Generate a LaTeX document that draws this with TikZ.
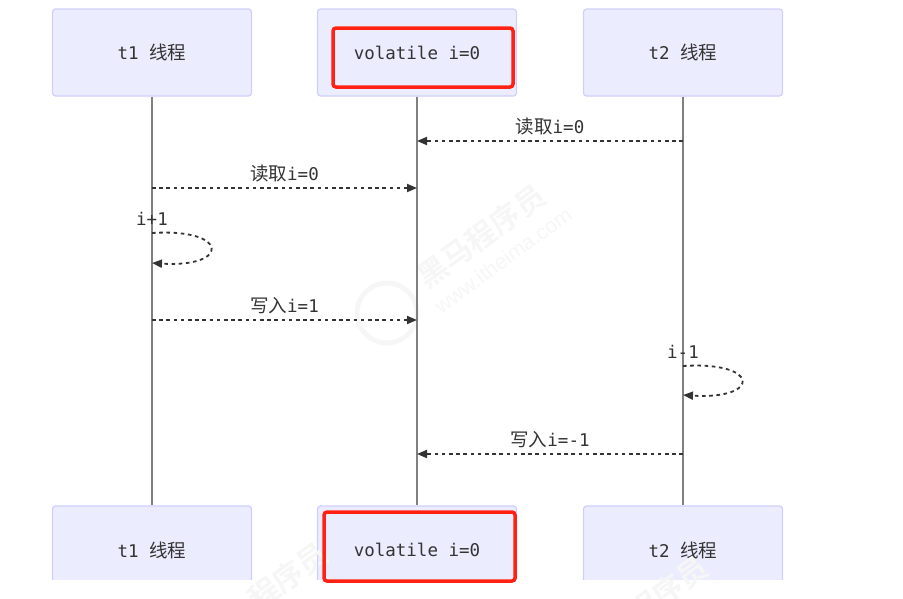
\documentclass[tikz,border=0pt]{standalone}
\usepackage{fontspec}
\setmonofont{DejaVu Sans Mono}
\newfontfamily\zhfont{Noto Sans CJK SC}
\newfontfamily\zhbold{Noto Sans CJK SC Bold}
\newfontfamily\wmfont{Liberation Sans}
\usetikzlibrary{arrows.meta,positioning}
\definecolor{actorfill}{HTML}{ECECFF}
\definecolor{actorline}{HTML}{CFCFFB}
\definecolor{marktext}{HTML}{F6F6F6}
\definecolor{ink}{HTML}{333333}
\definecolor{redmark}{HTML}{FF2212}
\newcommand{\zh}[1]{{\zhfont\fontsize{18.5}{20}\selectfont #1}}
\newcommand{\mono}{\ttfamily\fontsize{17.5}{20}\selectfont}
\tikzset{
	x=1pt, y=-1pt,
	>={Triangle[length=10pt,width=8pt]},
	actor/.style={draw=actorline, fill=actorfill, line width=1.2pt, rounded corners=3pt, minimum width=199pt, text=ink, font=\mono, inner sep=0pt},
	actortop/.style={actor, minimum height=87pt},
	actorend/.style={actor, minimum height=94pt},
	actortext/.style={text=ink, font=\mono, inner sep=0pt},
	lifeline/.style={draw=black!50, line width=1.5pt},
	msg/.style={draw=ink, line width=1.8pt, dash pattern=on 3.6pt off 3.6pt, ->},
	msglabel/.style={above=5pt, text=ink, font=\mono, inner sep=0pt},
	redbox/.style={draw=redmark, line width=3.5pt, rounded corners=3pt, inner sep=0pt},
	wmark/.style={text=marktext, rotate=36, inner sep=0pt},
}
\begin{document}
\begin{tikzpicture}
	\useasboundingbox (0,0) rectangle (903,598);
	\clip (0,0) rectangle (903,598);

	\node[actorend] (t1end) at (152,553) {};
	\node[actorend] (volend) at (417,553) {};
	\node[actorend] (t2end) at (683,553) {};
	\fill[white] (0,580) rectangle (903,603);
	\node[actortop] (t1) at (152,52.5) {t1 \zh{线程}};
	\node[actortop] (vol) at (417,52.5) {volatile i=0};
	\node[actortop] (t2) at (683,52.5) {t2 \zh{线程}};
	\node[actortext] (t1endtext) at (152,550) {t1 \zh{线程}};
	\node[actortext] (volendtext) at (417,550) {volatile i=0};
	\node[actortext] (t2endtext) at (683,550) {t2 \zh{线程}};

	% watermark
	\node[wmark, font=\zhbold\fontsize{30}{32}\selectfont] (markzh) at (481,236) {黑马程序员};
	\node[wmark, font=\wmfont\fontsize{21}{24}\selectfont] (markurl) at (503,260) {www.itheima.com};
	\draw[marktext, line width=5pt] (387,313) circle (30);
	\node[wmark, font=\zhbold\fontsize{30}{32}\selectfont] (markzha) at (288,576) {程序员};
	\node[wmark, font=\zhbold\fontsize{30}{32}\selectfont] (markzhb) at (668,590) {程序员};

	\draw[lifeline] (t1) -- (t1end);
	\draw[lifeline] (vol) -- (volend);
	\draw[lifeline] (t2) -- (t2end);

	\coordinate (t2a) at (683,141);
	\coordinate (vola) at (417,141);
	\coordinate (t1b) at (152,188);
	\coordinate (volb) at (417,188);
	\coordinate (t1c) at (152,233);
	\coordinate (t1d) at (152,263);
	\coordinate (t1e) at (152,320);
	\coordinate (vole) at (417,320);
	\coordinate (t2f) at (683,366);
	\coordinate (t2g) at (683,395);
	\coordinate (t2h) at (683,454);
	\coordinate (volh) at (417,454);

	\path
	(t2a) edge [msg] node [msglabel] {\zh{读取}i=0} (vola)
	(t1b) edge [msg] node [msglabel] {\zh{读取}i=0} (volb)
	(t1e) edge [msg] node [msglabel] {\zh{写入}i=1} (vole)
	(t2h) edge [msg] node [msglabel] {\zh{写入}i=-1} (volh);

	\draw[msg] (t1c) .. controls +(78,-5) and +(78,5) .. (t1d);
	\draw[msg] (t2f) .. controls +(78,-5) and +(78,5) .. (t2g);
	\node[msglabel, above=7pt of t1c] (incr) {i+1};
	\node[msglabel, above=7pt of t2f] (decr) {i-1};

	\node[redbox, minimum width=180pt, minimum height=59pt] (redtop) at (423,57.5) {};
	\node[redbox, minimum width=191pt, minimum height=69pt] (redend) at (419.5,546.5) {};
\end{tikzpicture}
\end{document}
